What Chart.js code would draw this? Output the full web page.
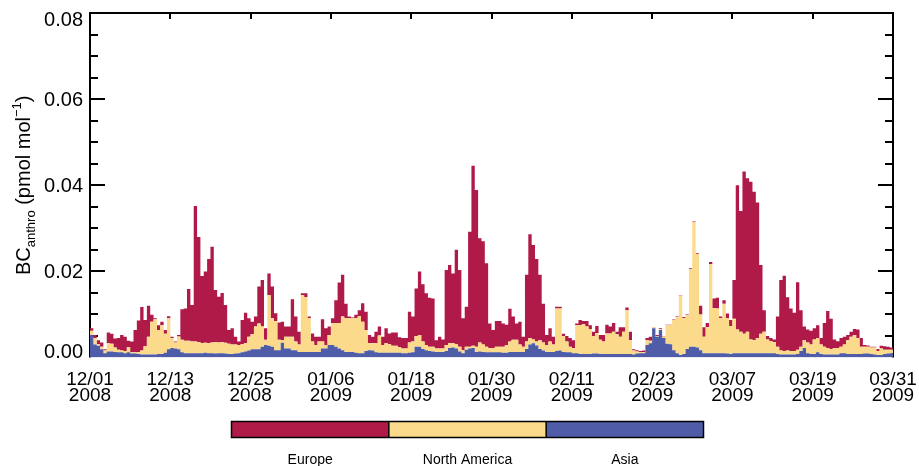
<!DOCTYPE html>
<html>
<head>
<meta charset="utf-8">
<script src="https://cdn.jsdelivr.net/npm/chart.js@4.4.0/dist/chart.umd.min.js"></script>
<style>
html,body{margin:0;padding:0;background:#ffffff;}
canvas{display:block;}
</style>
</head>
<body>
<canvas id="c" width="919" height="466"></canvas>
<script>
// ---- tick labels ----
const tickDates = ['12/01','12/13','12/25','01/06','01/18','01/30','02/11','02/23','03/07','03/19','03/31'];
const tickYears = ['2008','2008','2008','2009','2009','2009','2009','2009','2009','2009','2009'];
const seriesNames = ['Europe','North America','Asia'];
const yTitleMain = 'BC';
const yTitleSub = 'anthro';
const yTitleUnit = ' (pmol mol';
const yTitleSup = '\u22121';
const yTitleEnd = ')';

// ---- data: 12-hourly contributions (pmol/mol), starting 12/01/2008 00:00 ----
const europe = [
.0006,.0007,.0009,.0010,.0003,.0025,.0023,.0021,.0027,.0036,
.0033,.0015,.0025,.0052,.0074,.0101,.0061,.0072,.0016,.0002,
.0011,.0008,.0009,.0005,.0003,.0002,.0003,.0071,.0075,.0120,
.0085,.0315,.0244,.0156,.0166,.0196,.0222,.0121,.0106,.0114,
.0088,.0032,.0038,.0018,.0008,.0056,.0071,.0043,.0029,.0023,
.0086,.0108,.0027,.0050,.0074,.0018,.0040,.0043,.0024,.0024,
.0087,.0058,.0030,.0004,.0009,.0004,.0019,.0019,.0011,.0052,
.0039,.0020,.0011,.0053,.0094,.0097,.0034,.0004,.0002,.0008,
.0014,.0043,.0042,.0019,.0015,.0027,.0021,.0019,.0035,.0025,
.0031,.0031,.0023,.0024,.0024,.0071,.0058,.0110,.0148,.0133,
.0120,.0114,.0112,.0019,.0027,.0021,.0174,.0182,.0162,.0219,
.0178,.0074,.0093,.0267,.0418,.0364,.0242,.0240,.0194,.0057,
.0042,.0060,.0060,.0054,.0047,.0076,.0054,.0038,.0053,.0023,
.0155,.0241,.0219,.0192,.0152,.0090,.0023,.0031,.0018,.0004,
.0004,.0005,.0013,.0020,.0018,.0004,.0012,.0008,.0013,.0009,
.0010,.0016,.0011,.0015,.0020,.0016,.0020,.0006,.0022,.0010,
.0006,.0020,.0003,.0003,.0003,.0003,.0005,.0009,.0001,.0002,
.0002,.0001,.0001,.0001,.0001,.0001,.0001,.0002,.0002,.0002,
.0002,.0002,.0020,.0022,.0010,.0005,.0022,.0025,.0004,.0008,
.0011,.0014,.0090,.0335,.0280,.0377,.0356,.0366,.0345,.0315,
.0160,.0050,.0008,.0007,.0006,.0070,.0164,.0175,.0124,.0099,
.0089,.0157,.0085,.0032,.0030,.0032,.0026,.0030,.0015,.0055,
.0086,.0070,.0020,.0016,.0020,.0018,.0012,.0012,.0014,.0020,
.0020,.0004,.0003,.0002,.0002,.0005,.0006,.0008,.0007,.0005
];
const northAmerica = [
.0010,.0015,.0004,.0006,.0006,.0019,.0018,.0010,.0006,.0004,
.0005,.0012,.0003,.0003,.0004,.0009,.0019,.0041,.0076,.0082,
.0056,.0067,.0044,.0072,.0023,.0014,.0030,.0029,.0029,.0029,
.0027,.0027,.0026,.0023,.0023,.0023,.0025,.0027,.0025,.0026,
.0025,.0024,.0022,.0021,.0019,.0019,.0019,.0032,.0035,.0053,
.0060,.0047,.0012,.0118,.0066,.0068,.0024,.0006,.0027,.0027,
.0031,.0020,.0017,.0132,.0127,.0078,.0024,.0016,.0024,.0016,
.0008,.0023,.0051,.0055,.0059,.0078,.0078,.0078,.0078,.0080,
.0086,.0073,.0049,.0016,.0017,.0021,.0040,.0018,.0022,.0020,
.0016,.0016,.0013,.0011,.0011,.0024,.0025,.0025,.0027,.0017,
.0012,.0010,.0011,.0008,.0008,.0008,.0014,.0011,.0010,.0010,
.0011,.0007,.0007,.0004,.0005,.0012,.0021,.0017,.0013,.0010,
.0010,.0013,.0013,.0014,.0018,.0024,.0028,.0028,.0017,.0012,
.0017,.0015,.0009,.0009,.0020,.0019,.0016,.0024,.0017,.0099,
.0098,.0037,.0025,.0013,.0012,.0065,.0067,.0069,.0064,.0058,
.0041,.0048,.0033,.0029,.0048,.0048,.0052,.0046,.0040,.0052,
.0102,.0032,.0009,.0005,.0002,.0003,.0011,.0006,.0002,.0002,
.0002,.0004,.0043,.0044,.0070,.0084,.0138,.0084,.0078,.0180,
.0289,.0217,.0083,.0038,.0060,.0207,.0105,.0104,.0081,.0115,
.0082,.0065,.0080,.0055,.0050,.0045,.0050,.0032,.0030,.0035,
.0045,.0050,.0032,.0028,.0026,.0017,.0009,.0008,.0009,.0008,
.0008,.0010,.0010,.0018,.0025,.0022,.0034,.0033,.0022,.0018,
.0015,.0013,.0015,.0015,.0015,.0020,.0032,.0040,.0044,.0037,
.0017,.0016,.0016,.0015,.0016,.0009,.0015,.0010,.0009,.0008
];
const asia = [
.0052,.0030,.0027,.0019,.0010,.0014,.0014,.0013,.0012,.0012,
.0010,.0012,.0009,.0009,.0008,.0007,.0007,.0007,.0007,.0007,
.0008,.0008,.0011,.0019,.0022,.0021,.0019,.0012,.0010,.0010,
.0010,.0010,.0010,.0010,.0011,.0010,.0010,.0009,.0010,.0010,
.0009,.0008,.0008,.0009,.0010,.0012,.0014,.0016,.0019,.0019,
.0019,.0025,.0029,.0027,.0025,.0017,.0017,.0034,.0021,.0021,
.0017,.0017,.0013,.0013,.0013,.0013,.0013,.0013,.0013,.0021,
.0021,.0029,.0029,.0025,.0021,.0017,.0013,.0013,.0013,.0011,
.0010,.0010,.0015,.0017,.0016,.0012,.0011,.0011,.0011,.0011,
.0011,.0011,.0011,.0010,.0010,.0011,.0012,.0025,.0025,.0020,
.0017,.0015,.0014,.0013,.0013,.0013,.0015,.0022,.0023,.0021,
.0014,.0010,.0018,.0021,.0022,.0013,.0014,.0013,.0012,.0012,
.0012,.0012,.0012,.0011,.0011,.0013,.0013,.0013,.0013,.0013,
.0020,.0030,.0033,.0028,.0020,.0016,.0013,.0013,.0013,.0015,
.0016,.0013,.0012,.0012,.0010,.0010,.0008,.0008,.0008,.0008,
.0009,.0009,.0008,.0008,.0008,.0008,.0008,.0008,.0008,.0008,
.0008,.0008,.0007,.0009,.0010,.0010,.0029,.0033,.0068,.0048,
.0064,.0045,.0032,.0031,.0017,.0010,.0006,.0008,.0020,.0025,
.0025,.0023,.0017,.0010,.0010,.0010,.0010,.0010,.0010,.0010,
.0009,.0008,.0010,.0010,.0010,.0010,.0010,.0010,.0010,.0010,
.0010,.0010,.0010,.0010,.0010,.0008,.0007,.0007,.0007,.0007,
.0007,.0008,.0015,.0022,.0010,.0008,.0008,.0012,.0008,.0007,
.0007,.0007,.0007,.0007,.0010,.0010,.0008,.0008,.0008,.0008,
.0008,.0009,.0009,.0008,.0007,.0006,.0006,.0008,.0009,.0010
];

// ---- axis settings ----
const STEP_DAYS = 0.5;          // sampling interval
const X_MIN = 0, X_MAX = 120, X_MAJOR = 12;
const Y_MIN = 0, Y_MAX = 0.08, Y_MAJOR = 0.02, Y_MINOR = 0.005;
const COLORS = { europe: '#B01A48', northAmerica: '#FBDB8B', asia: '#4F5DA8' };
const FONT = "'Liberation Sans', Arial, sans-serif";

function toPoints(arr) {
  const pts = arr.map((v, i) => ({ x: X_MIN + i * STEP_DAYS, y: v }));
  pts.push({ x: X_MAX, y: arr[arr.length - 1] }); // close the last step
  return pts;
}

const framePlugin = {
  id: 'frame',
  beforeDatasetsDraw(chart) {
    const { ctx, chartArea: a, scales: { x, y } } = chart;
    ctx.save();
    ctx.strokeStyle = '#000';
    ctx.lineWidth = 2;
    ctx.beginPath();
    ctx.moveTo(a.left, a.bottom); ctx.lineTo(a.left, a.top);
    ctx.lineTo(a.right, a.top); ctx.lineTo(a.right, a.bottom);
    ctx.stroke();
    const nMinor = Math.round((Y_MAX - Y_MIN) / Y_MINOR);
    const perMajor = Math.round(Y_MAJOR / Y_MINOR);
    ctx.beginPath();
    for (let k = 1; k < nMinor; k++) {
      const py = Math.round(y.getPixelForValue(Y_MIN + k * Y_MINOR));
      const len = (k % perMajor === 0) ? 15 : 8;
      ctx.moveTo(a.left, py); ctx.lineTo(a.left + len, py);
      ctx.moveTo(a.right, py); ctx.lineTo(a.right - len, py);
    }
    const nX = Math.round((X_MAX - X_MIN) / X_MAJOR);
    for (let k = 1; k < nX; k++) {
      const px = Math.round(x.getPixelForValue(X_MIN + k * X_MAJOR));
      ctx.moveTo(px, a.top); ctx.lineTo(px, a.top + 6);
    }
    ctx.stroke();
    ctx.restore();
  }
};

// y tick labels: drawn at the scale's tick positions; end labels nudged inward as in the original
const yLabelPlugin = {
  id: 'ylabels',
  afterDraw(chart) {
    const { ctx, chartArea: a, scales: { y } } = chart;
    ctx.save();
    ctx.fillStyle = '#000';
    ctx.font = '20px ' + FONT;
    ctx.textAlign = 'right';
    ctx.textBaseline = 'middle';
    y.ticks.forEach(t => {
      const v = t.value;
      let py = y.getPixelForValue(v);
      if (Math.abs(v - Y_MIN) < 1e-9) py -= 6;
      if (Math.abs(v - Y_MAX) < 1e-9) py += 6;
      ctx.fillText(v.toFixed(2), a.left - 7, py + 1);
    });
    ctx.restore();
  }
};

const titlePlugin = {
  id: 'ytitle',
  afterDraw(chart) {
    const { ctx, chartArea: a } = chart;
    ctx.save();
    ctx.fillStyle = '#000';
    ctx.textBaseline = 'alphabetic';
    ctx.textAlign = 'left';
    const big = '20px ' + FONT, small = '13px ' + FONT;
    const parts = [
      { t: yTitleMain, f: big, dy: 0 },
      { t: yTitleSub, f: small, dy: 5 },
      { t: yTitleUnit, f: big, dy: 0 },
      { t: yTitleSup, f: small, dy: -9 },
      { t: yTitleEnd, f: big, dy: 0 }
    ];
    let total = 0;
    parts.forEach(p => { ctx.font = p.f; p.w = ctx.measureText(p.t).width; total += p.w; });
    const cy = (a.top + a.bottom) / 2;
    ctx.translate(30, cy + total / 2);
    ctx.rotate(-Math.PI / 2);
    let cx = 0;
    parts.forEach(p => { ctx.font = p.f; ctx.fillText(p.t, cx, p.dy); cx += p.w; });
    ctx.restore();
  }
};

const colorbarPlugin = {
  id: 'colorbar',
  afterDraw(chart) {
    const { ctx } = chart;
    const left = 231.5, right = 703.5, top = 421.5, bottom = 437.5;
    const cols = [COLORS.europe, COLORS.northAmerica, COLORS.asia];
    const w = (right - left) / cols.length;
    ctx.save();
    cols.forEach((c, i) => { ctx.fillStyle = c; ctx.fillRect(left + i * w, top, w, bottom - top); });
    ctx.strokeStyle = '#000';
    ctx.lineWidth = 1.5;
    ctx.strokeRect(left, top, right - left, bottom - top);
    ctx.beginPath();
    for (let i = 1; i < cols.length; i++) { ctx.moveTo(left + i * w, top); ctx.lineTo(left + i * w, bottom); }
    ctx.stroke();
    ctx.fillStyle = '#000';
    ctx.font = '14px ' + FONT;
    ctx.textAlign = 'center';
    ctx.textBaseline = 'middle';
    seriesNames.forEach((n, i) => ctx.fillText(n, left + (i + 0.5) * w, 460));
    ctx.restore();
  }
};

new Chart(document.getElementById('c'), {
  type: 'line',
  data: {
    datasets: [
      { label: seriesNames[2], data: toPoints(asia), backgroundColor: COLORS.asia, borderColor: COLORS.asia, fill: 'origin' },
      { label: seriesNames[1], data: toPoints(northAmerica), backgroundColor: COLORS.northAmerica, borderColor: COLORS.northAmerica, fill: '-1' },
      { label: seriesNames[0], data: toPoints(europe), backgroundColor: COLORS.europe, borderColor: COLORS.europe, fill: '-1' }
    ]
  },
  options: {
    responsive: false,
    animation: false,
    devicePixelRatio: 1,
    layout: { padding: { top: 13, right: 26, left: 0, bottom: 0 } },
    plugins: { legend: { display: false }, tooltip: { enabled: false } },
    elements: {
      point: { radius: 0, hoverRadius: 0 },
      line: { borderWidth: 0, tension: 0, stepped: true }
    },
    scales: {
      x: {
        type: 'linear', min: X_MIN, max: X_MAX,
        border: { display: false },
        grid: { display: false, drawTicks: false },
        ticks: {
          stepSize: X_MAJOR, autoSkip: false, maxRotation: 0, padding: 15, color: '#000',
          font: { family: FONT, size: 19, lineHeight: 0.8 },
          callback: (v) => { const k = Math.round((v - X_MIN) / X_MAJOR); return [tickDates[k], tickYears[k]]; }
        },
        afterFit(s) { s.height = 108.5; s.paddingLeft = 0; s.paddingRight = 0; }
      },
      y: {
        stacked: true, min: Y_MIN, max: Y_MAX,
        border: { display: false },
        grid: { display: false, drawTicks: false },
        ticks: { stepSize: Y_MAJOR, display: false },
        afterFit(s) { s.width = 90; s.paddingTop = 0; s.paddingBottom = 0; }
      }
    }
  },
  plugins: [framePlugin, yLabelPlugin, titlePlugin, colorbarPlugin]
});
</script>
</body>
</html>
